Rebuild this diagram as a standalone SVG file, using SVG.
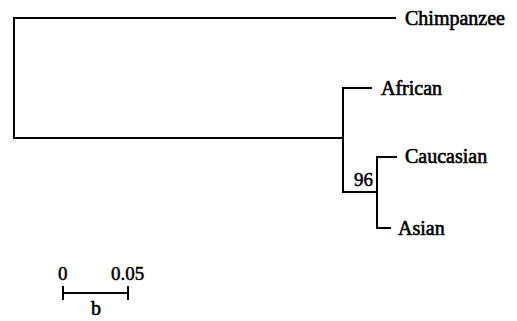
<svg xmlns="http://www.w3.org/2000/svg" width="517" height="321" viewBox="0 0 517 321">
<style>
.br{fill:none;stroke:#000;stroke-width:2;stroke-linecap:square}
.lbl{font-family:"Liberation Serif","Times New Roman",serif;font-size:20px;fill:#000;stroke:#000;stroke-width:0.6}
.num{font-family:"Liberation Serif","Times New Roman",serif;font-size:19px;fill:#000;stroke:#000;stroke-width:0.5}
</style>
<rect width="517" height="321" fill="#fff"/>
<g id="connectors">
<path class="br" d="M395 18 H14 V138 H343"/>
<path class="br" d="M371 88 H343 V192 H377"/>
<path class="br" d="M396 157 H377 V228 H390"/>
</g>
<g id="chimpanzee"><text class="lbl" x="405" y="25">Chimpanzee</text></g>
<g id="african"><text class="lbl" x="381" y="95">African</text></g>
<g id="caucasian"><text class="lbl" x="405" y="163">Caucasian</text></g>
<g id="asian"><text class="lbl" x="398" y="235">Asian</text></g>
<g id="bootstrap"><text class="num" x="354" y="186">96</text></g>
<g id="scalebar">
<path class="br" d="M63 293 H128 M63 287 V299 M128 287 V299"/>
<text class="num" x="58" y="280">0</text>
<text class="num" x="111" y="280">0.05</text>
<text class="lbl" x="91" y="315">b</text>
</g>
</svg>
